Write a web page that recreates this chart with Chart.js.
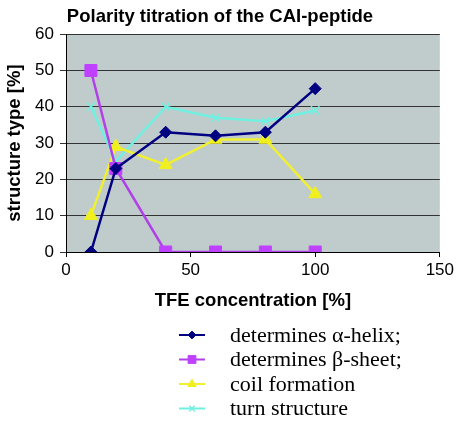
<!DOCTYPE html>
<html>
<head>
<meta charset="utf-8">
<script src="https://cdn.jsdelivr.net/npm/chart.js@4/dist/chart.umd.min.js"></script>
<style>
  html, body { margin: 0; padding: 0; background: #fff; }
  #wrap { width: 457px; height: 424px; }
</style>
</head>
<body>
<div id="wrap"><canvas id="chartTitration" width="457" height="424"></canvas></div>
<script>
var tfe = [10, 20, 40, 60, 80, 100];
var alphaHelix = [0, 23, 33, 32, 33, 45];
var betaSheet = [50, 23, 0, 0, 0, 0];
var coil = [10, 29, 24, 31, 31, 16];
var turn = [40, 25, 40, 37, 36, 39];
var seriesNames = ['determines \u03b1-helix;', 'determines \u03b2-sheet;', 'coil formation', 'turn structure'];
var xTicks = [0, 50, 100, 150];
var yTicks = [0, 10, 20, 30, 40, 50, 60];

function pts(ys) {
    var out = [];
    for (var i = 0; i < tfe.length; i++) {
        out.push({x: tfe[i], y: ys[i]});
    }
    return out;
}

// grey plot background
var plotBg = {
    id: 'plotBg',
    beforeDraw: function(chart) {
        var a = chart.chartArea;
        var c = chart.ctx;
        c.save();
        c.fillStyle = '#c0cccc';
        c.fillRect(a.left, a.top, a.right - a.left, a.bottom - a.top);
        c.restore();
    }
};

// legend under the chart, one row per series, line + marker + serif text
var sideLegend = {
    id: 'sideLegend',
    afterDraw: function(chart) {
        var c = chart.ctx;
        var x0 = 179, x1 = 205, tx = 230, y = 335, step = 24.5;
        c.save();
        chart.data.datasets.forEach(function(ds, i) {
            var yy = y + i * step;
            c.strokeStyle = ds.borderColor;
            c.lineWidth = 2;
            c.beginPath();
            c.moveTo(x0, yy);
            c.lineTo(x1, yy);
            c.stroke();
            c.fillStyle = ds.pointBackgroundColor;
            c.strokeStyle = ds.pointBorderColor;
            c.lineWidth = ds.pointBorderWidth;
            Chart.helpers.drawPoint(c, {
                pointStyle: ds.pointStyle,
                radius: ds.pointRadius * 0.65,
                rotation: 0,
                borderWidth: ds.pointBorderWidth
            }, (x0 + x1) / 2, yy);
            c.fillStyle = '#000';
            c.font = '22px "Liberation Serif"';
            c.textBaseline = 'middle';
            c.textAlign = 'left';
            c.fillText(ds.label, tx, yy + 1);
        });
        c.restore();
    }
};

var ctx = document.getElementById('chartTitration').getContext('2d');
var myChart = new Chart(ctx, {
    type: 'line',
    data: {
        datasets: [{
            label: seriesNames[0],
            data: pts(alphaHelix),
            borderColor: '#000080',
            pointBackgroundColor: '#000080',
            pointBorderColor: '#000080',
            pointBorderWidth: 1,
            pointStyle: 'rectRot',
            pointRadius: 6,
            borderWidth: 2.5
        }, {
            label: seriesNames[1],
            data: pts(betaSheet),
            borderColor: '#b040e8',
            pointBackgroundColor: '#c040ff',
            pointBorderColor: '#c040ff',
            pointBorderWidth: 1,
            pointStyle: 'rect',
            pointRadius: 8.5,
            borderWidth: 2.5
        }, {
            label: seriesNames[2],
            data: pts(coil),
            borderColor: '#f0f030',
            pointBackgroundColor: '#f0f020',
            pointBorderColor: '#f0f020',
            pointBorderWidth: 1,
            pointStyle: 'triangle',
            pointRadius: 7.5,
            borderWidth: 2.5
        }, {
            label: seriesNames[3],
            data: pts(turn),
            borderColor: '#70f0e0',
            pointBackgroundColor: '#70f0e0',
            pointBorderColor: '#70f0e0',
            pointBorderWidth: 1.5,
            pointStyle: 'crossRot',
            pointRadius: 6,
            borderWidth: 2.5
        }]
    },
    plugins: [plotBg, sideLegend],
    options: {
        responsive: false,
        animation: false,
        layout: {
            padding: {left: 0, right: 17, top: 0, bottom: 110}
        },
        scales: {
            x: {
                type: 'linear',
                min: 0,
                max: 150,
                afterBuildTicks: function(s) {
                    s.ticks = xTicks.map(function(v) { return {value: v}; });
                },
                afterFit: function(s) { s.height = 62; },
                grid: {
                    display: true,
                    drawOnChartArea: false,
                    drawTicks: true,
                    tickLength: 5,
                    color: '#000'
                },
                border: {display: true, color: '#000', width: 1},
                ticks: {
                    color: '#000',
                    padding: 3,
                    maxRotation: 0,
                    font: {family: 'Arial, "Liberation Sans"', size: 17}
                },
                title: {
                    display: true,
                    text: 'TFE concentration [%]',
                    color: '#000',
                    padding: {top: 2, bottom: 2},
                    font: {family: 'Arial, "Liberation Sans"', size: 18.5, weight: 'bold'}
                }
            },
            y: {
                min: 0,
                max: 60,
                afterBuildTicks: function(s) {
                    s.ticks = yTicks.map(function(v) { return {value: v}; });
                },
                afterFit: function(s) { s.width = 66; },
                grid: {
                    color: '#333',
                    lineWidth: 1,
                    drawTicks: true,
                    tickLength: 6
                },
                border: {display: true, color: '#000', width: 1},
                ticks: {
                    color: '#000',
                    padding: 6,
                    font: {family: 'Arial, "Liberation Sans"', size: 17}
                },
                title: {
                    display: true,
                    text: 'structure type [%]',
                    color: '#000',
                    padding: {top: 4, bottom: 2},
                    font: {family: 'Arial, "Liberation Sans"', size: 18.5, weight: 'bold'}
                }
            }
        },
        plugins: {
            legend: {display: false},
            tooltip: {enabled: false},
            title: {
                display: true,
                text: 'Polarity titration of the CAI-peptide',
                color: '#000',
                padding: {top: 6, bottom: 6},
                font: {family: 'Arial, "Liberation Sans"', size: 18.5, weight: 'bold'}
            }
        }
    }
});
</script>
</body>
</html>
